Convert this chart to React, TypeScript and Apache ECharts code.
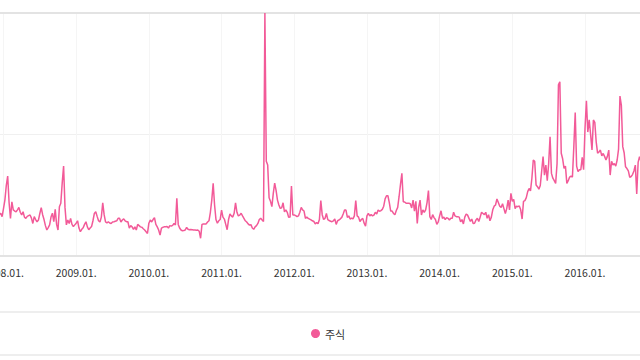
import React, { useEffect, useRef } from "react";
import * as echarts from "echarts";

// Weekly search-interest index (0-100)
const seriesName = "주식";
const late2007 = [17, 17.6, 16.2]; // weeks 49-51 of 2007
const y2008 = [19.5,23,29,32.9,22,15.5,22.3,19,18.5,18.2,19,20,18,16.9,18.2,16,15.5,16.3,16.6,16.9,15.6,13.4,16.2,15,14.1,14.8,17.5,19.9,17,15,12.5,10.7,11.7,12.8,16,17.6,14.1,19.2,13,10.7,20.3,21.7,30,37,20,12.8,14.8,13.4,15.5,13,12.1,12.8];
const y2009 = [13.5,14.5,11.5,10,11,11.6,13,14.1,12,10.8,11.5,12.1,14.5,17.5,18.2,16.3,14.5,14,16,21.9,17,14,13.6,14.1,13.6,13.4,14,14.1,14.3,14.5,15.5,15.5,14,14.8,15.3,14.5,14.1,14.1,11.5,12.5,12,11,12,10.7,13,12.5,12,11.8,11.2,10.7,10,9.3];
const y2010 = [13.5,14.8,14,15,15.8,13,12,10.7,8.6,11.5,11.8,12,12,12.1,11.5,12.5,12.3,12.6,13.4,12.8,23.7,13,11.5,10.7,10.4,10.5,10.7,11.8,11,10.8,10.9,10.8,10.7,10.7,10.6,10.7,10.2,7.3,13,13.2,13.2,13.2,14,14.5,18,23,29.9,21,15,13.5,14.5,15];
const y2011 = [18.9,16,15.2,13,10.8,15,17.3,16.5,16,17.6,21.9,18,16.5,16.8,17.6,16.5,15.5,14.5,14,13.2,12.7,12.9,11.5,11,12,12.5,13.4,15,15.5,14.8,14.2,100,39,37.4,24,22.5,20.3,25.8,30,27,23,21,19.6,19.8,21.9,18.2,19,18,15.9,16,28.8,16.9];
const y2012 = [16.9,16.6,16.2,16.5,18,20,19,18.5,15.5,16,15.5,15.2,14.9,14.5,14.2,13.2,13.8,13.3,15,22.8,17,15,15.5,17.5,15,14.6,14.3,14.1,14.5,15.2,13,14.5,14.8,15.3,15.9,17.3,18.9,18.9,15.9,16.5,15.2,15.6,15.3,16.5,22.8,16.5,16,14.2,15,15.5,13.5,12.3];
const y2013 = [16.5,17.6,16.5,17,16.5,16.8,18,17.3,18.9,18.4,18.7,19.2,20.5,23.5,24.8,24.8,22,18.5,18.5,17.5,17,18.7,20,24.5,29.5,34,22.3,22.2,21.7,21.7,21.7,21.5,19.8,23,18.5,22.5,13.4,20,23,16.9,19,18,19,22,26.9,16.2,15,17,15.8,15,13,14];
const y2014 = [16.5,18.6,15.5,16,15,15.8,15.5,14.8,15.5,15.5,18,16.5,16.2,16.2,16,14.1,15,13.2,16,17.3,16.8,15.5,14.2,15.2,13.4,13.5,14.8,15.5,14.2,16,18,17.5,17,18,15.5,17,14.5,16,19,20.5,21,23.5,22,20.5,20,21.5,19.5,17.5,19.5,23,19,25.8];
const y2015 = [22.5,23.3,19.5,20.5,20.3,20.6,19,15.2,22.5,22.8,24,26.5,27.8,26.8,32,39.5,39,29.2,28.5,27.5,29,35,40.9,33.3,37.4,31,38,49.1,34,32,31,29.9,38,70.4,71.7,42.3,40,36.1,37,29.9,31,32.5,32.9,32.5,45,59,37,34.7,35.5,35.5,40.6,35.5];
const y2016 = [52.5,63.9,51,56,50,43.6,56,55,47,42.3,42.8,43.6,41.2,42.2,41,39.5,41,43.6,33.3,39,37.5,38,37,39.5,44,65.8,62,45,42.5,36.7,36,35,32.4,32.7,33.5,35,37.4,25.5,38.5,40.9,39,37,36];

const years = [2008, 2009, 2010, 2011, 2012, 2013, 2014, 2015, 2016];
const yearly = [y2008, y2009, y2010, y2011, y2012, y2013, y2014, y2015, y2016];
const labeledYears = years; // tick labels shown in the reference
const weeksPerYear = 52;

function buildPoints(): [number, number][] {
  const pts: [number, number][] = [];
  late2007.forEach((v, k) => pts.push([2007 + (49 + k) / weeksPerYear, v]));
  yearly.forEach((arr, yi) => {
    arr.forEach((v, i) => pts.push([years[yi] + i / weeksPerYear, v]));
  });
  return pts;
}

const lineColor = "#f25a98";

export default function App() {
  const ref = useRef<HTMLDivElement>(null);
  useEffect(() => {
    document.body.style.margin = "0";
    if (!ref.current) return;
    const chart = echarts.init(ref.current, undefined, { renderer: "svg" });
    const axisCommon = {
      type: "value" as const,
      min: 2007,
      max: 2017,
      interval: 1,
    };
    chart.setOption({
      animation: false,
      backgroundColor: "#ffffff",
      grid: {
        left: -69.2,
        right: -17.7,
        top: 13,
        bottom: 104,
        containLabel: false,
        outerBoundsMode: "none",
      },
      xAxis: [
        {
          ...axisCommon,
          position: "bottom",
          axisLine: { show: true, lineStyle: { color: "#e3e3e3", width: 2 } },
          axisTick: { show: false },
          axisLabel: {
            show: true,
            margin: 11,
            color: "#333333",
            fontSize: 10.5,
            fontFamily: "'Noto Sans CJK KR', sans-serif",
            formatter: (v: number) =>
              labeledYears.indexOf(Math.round(v)) >= 0 ? `${Math.round(v)}.01.` : "",
          },
          splitLine: { show: true, lineStyle: { color: "#f5f5f5", width: 1 } },
        },
        {
          ...axisCommon,
          position: "top",
          axisLine: { show: true, lineStyle: { color: "#e3e3e3", width: 2 } },
          axisTick: { show: false },
          axisLabel: { show: false },
          splitLine: { show: false },
        },
      ],
      yAxis: {
        type: "value",
        min: 0,
        max: 100,
        interval: 50,
        axisLine: { show: false },
        axisTick: { show: false },
        axisLabel: { show: false },
        splitLine: { show: true, lineStyle: { color: "#f0f0f0", width: 1 } },
      },
      legend: {
        data: [seriesName],
        icon: "circle",
        itemWidth: 9,
        itemHeight: 9,
        left: 306,
        top: 323,
        textStyle: {
          fontSize: 11,
          color: "#333333",
          fontFamily: "'Noto Sans CJK KR', sans-serif",
        },
      },
      graphic: [
        { type: "rect", shape: { x: 0, y: 311, width: 640, height: 2 }, style: { fill: "#eeeeee" }, silent: true },
        { type: "rect", shape: { x: 0, y: 354, width: 640, height: 2 }, style: { fill: "#eeeeee" }, silent: true },
      ],
      series: [
        {
          name: seriesName,
          type: "line",
          xAxisIndex: 0,
          data: buildPoints(),
          showSymbol: false,
          symbol: "circle",
          lineStyle: { color: lineColor, width: 1.5 },
          itemStyle: { color: lineColor },
        },
      ],
    });
    return () => chart.dispose();
  }, []);
  return (
    <div
      ref={ref}
      style={{ width: 640, height: 360, position: "absolute", left: 0, top: 0 }}
    />
  );
}
